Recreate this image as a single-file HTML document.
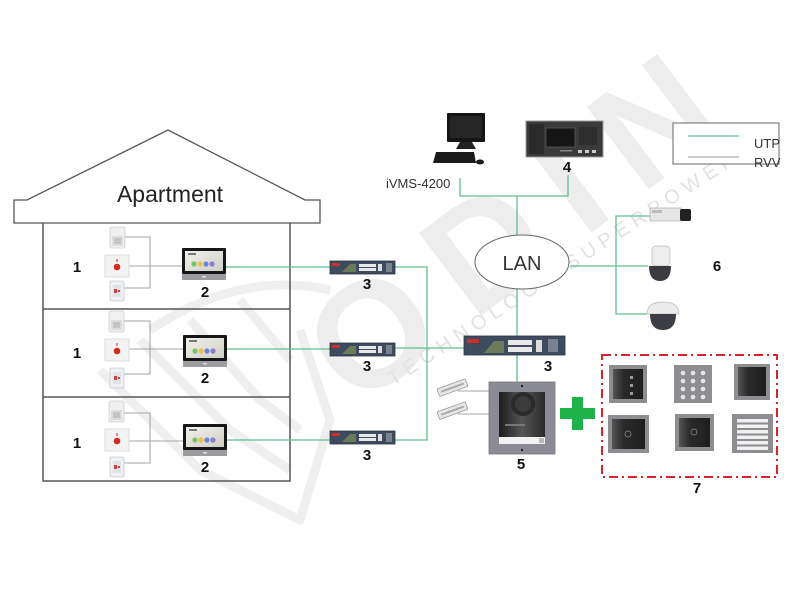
<!DOCTYPE html>
<html><head><meta charset="utf-8"><style>
html,body{margin:0;padding:0;background:#fff;}
svg{display:block;}
text{font-family:"Liberation Sans",sans-serif;}
</style></head><body>
<svg width="800" height="600" viewBox="0 0 800 600" xmlns="http://www.w3.org/2000/svg">
<defs>
<linearGradient id="scr" x1="0" y1="0" x2="1" y2="1"><stop offset="0" stop-color="#f2f0ea"/><stop offset="1" stop-color="#cfcfc8"/></linearGradient>
<linearGradient id="face" x1="0" y1="0" x2="1" y2="0"><stop offset="0" stop-color="#1c1c1c"/><stop offset="0.5" stop-color="#555"/><stop offset="1" stop-color="#2a2a2a"/></linearGradient>
<linearGradient id="mod" x1="0" y1="0" x2="1" y2="0"><stop offset="0" stop-color="#555"/><stop offset="0.35" stop-color="#2a2a2a"/><stop offset="1" stop-color="#1e1e1e"/></linearGradient>
<g id="sw">
<rect x="0" y="0" width="65" height="13" fill="#3e4b5e" stroke="#2a3340" stroke-width="0.8"/>
<rect x="2" y="2" width="8" height="3" fill="#c9302c"/>
<polygon points="12,11 20,3 26,3 26,11" fill="#6c7c5a"/>
<rect x="29" y="3" width="17" height="3" fill="#e8e8e8"/>
<rect x="29" y="7" width="17" height="3" fill="#e8e8e8"/>
<rect x="48" y="3" width="4" height="7" fill="#ddd"/>
<rect x="56" y="2" width="6" height="9" fill="#7a8290"/>
</g>
<g id="mon">
<rect x="0" y="0" width="44" height="26" fill="#161616" rx="1"/>
<rect x="3" y="3" width="38" height="20" fill="url(#scr)"/>
<rect x="6" y="5" width="8" height="2" fill="#777"/>
<circle cx="12" cy="16" r="2.6" fill="#7cc36a"/>
<circle cx="18" cy="16" r="2.6" fill="#e8c14a"/>
<circle cx="24" cy="16" r="2.6" fill="#6a86d6"/>
<circle cx="30" cy="16" r="2.6" fill="#8a7ad0"/>
<rect x="0" y="26" width="44" height="6" fill="#9c9ca0"/>
<rect x="20" y="28" width="4" height="1.5" fill="#ddd"/>
</g>
<g id="pir">
<rect x="0" y="0" width="15" height="21" fill="#f0f0f0" stroke="#cfcfcf" stroke-width="0.8" rx="2"/>
<rect x="2" y="9" width="11" height="10" fill="#dcdcdc"/>
<rect x="4" y="11" width="7" height="6" fill="#c4c4c4"/>
</g>
<g id="btn">
<rect x="0" y="0" width="24" height="22" fill="#f3f3f3" stroke="#d6d6d6" stroke-width="0.8"/>
<circle cx="12" cy="12" r="3.3" fill="#d42a20"/>
<rect x="11.5" y="4" width="1" height="3" fill="#d42a20"/>
</g>
<g id="dc">
<rect x="0" y="0" width="14" height="20" fill="#eef0f4" stroke="#c8ccd4" stroke-width="0.8" rx="1.5"/>
<rect x="3" y="4" width="8" height="12" fill="#dfe3ea"/>
<rect x="4" y="8" width="3" height="4" fill="#d64040"/>
<rect x="8" y="9" width="2" height="2" fill="#d64040"/>
</g>
<g id="lock">
<rect x="0" y="0" width="30" height="8" fill="#e6e6e6" stroke="#999" stroke-width="0.8" rx="1"/>
<rect x="3" y="3" width="24" height="2" fill="#aaa"/>
</g>
</defs>

<!-- watermark -->
<g fill="none" stroke="#efefef" stroke-width="9" stroke-linejoin="round">
<path d="M150,330 Q240,270 330,290"/>
<polyline points="100,370 200,470 300,520 330,420 300,330"/>
<polyline points="140,340 230,430 290,470"/>
<polyline points="190,320 260,400 300,430"/>
<polyline points="240,300 290,360"/>
</g>
<text x="0" y="0" transform="translate(356,410) rotate(-37)" font-size="150" font-weight="bold" fill="#ededed" letter-spacing="30">ODIN</text>
<text x="0" y="0" transform="translate(393,386) rotate(-33)" font-size="20" fill="#e2e2e2" letter-spacing="6">TECHNOLOGY SUPERPOWERS</text>

<!-- house -->
<polygon points="14,223 14,200 27,200 168,130 305,200 320,200 320,223" fill="#fff" stroke="#555" stroke-width="1.3"/>
<text x="170" y="202" font-size="23" text-anchor="middle" fill="#222">Apartment</text>
<polyline points="43,223 43,481 290,481 290,223" fill="none" stroke="#555" stroke-width="1.5"/>
<line x1="43" y1="309" x2="290" y2="309" stroke="#555" stroke-width="1.5"/>
<line x1="43" y1="397" x2="290" y2="397" stroke="#555" stroke-width="1.5"/>

<!-- gray wiring floors -->
<g stroke="#a6a6a6" stroke-width="1.1" fill="none">
<polyline points="125,237 150,237 150,288 124,288"/>
<line x1="129" y1="266" x2="182" y2="266"/>
<polyline points="124,321 150,321 150,374 123,374"/>
<line x1="129" y1="349" x2="183" y2="349"/>
<polyline points="124,413 150,413 150,463 123,463"/>
<line x1="129" y1="441" x2="183" y2="441"/>
<line x1="458" y1="391" x2="489" y2="391"/>
<line x1="458" y1="414" x2="489" y2="414"/>
</g>

<!-- floor 1 -->
<use href="#pir" x="110" y="227"/>
<use href="#btn" x="105" y="255"/>
<use href="#dc" x="110" y="281"/>
<use href="#mon" x="182" y="248"/>
<!-- floor 2 -->
<use href="#pir" x="109" y="311"/>
<use href="#btn" x="105" y="339"/>
<use href="#dc" x="110" y="368"/>
<use href="#mon" x="183" y="335"/>
<!-- floor 3 -->
<use href="#pir" x="109" y="401"/>
<use href="#btn" x="105" y="429"/>
<use href="#dc" x="110" y="457"/>
<use href="#mon" x="183" y="424"/>

<g font-size="15" font-weight="bold" fill="#111" text-anchor="middle">
<text x="77" y="272">1</text>
<text x="77" y="358">1</text>
<text x="77" y="448">1</text>
<text x="205" y="297">2</text>
<text x="205" y="383">2</text>
<text x="205" y="472">2</text>
<text x="367" y="289">3</text>
<text x="367" y="371">3</text>
<text x="367" y="460">3</text>
<text x="548" y="371">3</text>
<text x="567" y="172">4</text>
<text x="521" y="469">5</text>
<text x="717" y="271">6</text>
<text x="697" y="493">7</text>
</g>

<!-- green UTP lines -->
<g stroke="#5fbf8d" stroke-width="1.3" fill="none">
<line x1="226" y1="267" x2="330" y2="267"/>
<line x1="227" y1="349" x2="330" y2="349"/>
<line x1="227" y1="440" x2="330" y2="440"/>
<polyline points="395,267 427,267 427,440 395,440"/>
<line x1="395" y1="348" x2="464" y2="348"/>
<line x1="517" y1="289" x2="517" y2="336"/>
<line x1="517" y1="355" x2="517" y2="382"/>
<line x1="517" y1="196" x2="517" y2="235"/>
<polyline points="460,178 460,196 568,196 568,175"/>
<line x1="570" y1="266" x2="616" y2="266"/>
<polyline points="650,216 616,216 616,314 647,314"/>
<line x1="616" y1="266" x2="648" y2="266"/>
</g>

<!-- switches -->
<use href="#sw" x="330" y="261"/>
<use href="#sw" x="330" y="343"/>
<use href="#sw" x="330" y="431"/>
<g>
<rect x="464" y="336" width="101" height="19" fill="#3e4b5e" stroke="#2a3340" stroke-width="0.8"/>
<rect x="467" y="339" width="12" height="4" fill="#c9302c"/>
<polygon points="484,353 494,341 504,341 504,353" fill="#6c7c5a"/>
<rect x="508" y="340" width="24" height="5" fill="#e8e8e8"/>
<rect x="508" y="347" width="24" height="5" fill="#e8e8e8"/>
<rect x="536" y="340" width="6" height="12" fill="#ddd"/>
<rect x="548" y="339" width="10" height="13" fill="#7a8290"/>
</g>

<!-- LAN -->
<ellipse cx="522" cy="262" rx="47" ry="27" fill="#fff" stroke="#666" stroke-width="1"/>
<text x="522" y="270" font-size="20" text-anchor="middle" fill="#333">LAN</text>

<!-- computer -->
<g>
<rect x="447" y="113" width="38" height="29" fill="#151515" rx="1"/>
<rect x="450" y="116" width="32" height="22" fill="#262626"/>
<polygon points="460,142 472,142 476,149 456,149" fill="#222"/>
<polygon points="436,152 474,152 476,163 433,163" fill="#1b1b1b"/>
<ellipse cx="480" cy="162" rx="4" ry="2.5" fill="#1b1b1b"/>
</g>
<text x="386" y="188" font-size="13" fill="#333">iVMS-4200</text>

<!-- indoor station 4 -->
<g>
<rect x="526" y="121" width="77" height="36" fill="#3a3a3c" stroke="#999" stroke-width="1"/>
<rect x="529" y="124" width="15" height="30" fill="#2a2a2a"/>
<rect x="546" y="128" width="29" height="19" fill="#151515" stroke="#666" stroke-width="0.6"/>
<rect x="579" y="127" width="18" height="18" fill="#2e2e2e"/>
<rect x="578" y="150" width="4" height="3" fill="#ccc"/>
<rect x="585" y="150" width="4" height="3" fill="#ccc"/>
<rect x="592" y="150" width="4" height="3" fill="#ccc"/>
<rect x="560" y="150" width="12" height="1.5" fill="#888"/>
</g>

<!-- cameras -->
<g>
<rect x="650" y="208" width="31" height="13" fill="#e6e6e8" stroke="#aaa" stroke-width="0.7"/>
<rect x="652" y="210" width="10" height="3" fill="#bbb"/>
<rect x="680" y="209" width="11" height="12" fill="#222" rx="2"/>
<rect x="652" y="246" width="18" height="20" fill="#eeeeee" stroke="#bbb" stroke-width="0.7" rx="4"/>
<path d="M649,266 L671,266 Q671,281 660,281 Q649,281 649,266 Z" fill="#3a3a40"/>
<path d="M647,314 Q647,302 663,302 Q679,302 679,314 Z" fill="#ececec" stroke="#bbb" stroke-width="0.7"/>
<path d="M650,314 L676,314 Q676,330 663,330 Q650,330 650,314 Z" fill="#3d3d45"/>
</g>

<!-- legend -->
<rect x="673" y="123" width="106" height="41" fill="#fff" stroke="#666" stroke-width="1"/>
<line x1="688" y1="136" x2="739" y2="136" stroke="#5fbf8d" stroke-width="1.3"/>
<line x1="688" y1="157" x2="739" y2="157" stroke="#999" stroke-width="1.1"/>
<text x="754" y="148" font-size="13" fill="#333">UTP</text>
<text x="754" y="167" font-size="13" fill="#333">RVV</text>

<!-- locks -->
<use href="#lock" transform="translate(437,389) rotate(-20)"/>
<use href="#lock" transform="translate(437,412) rotate(-20)"/>

<!-- door station 5 -->
<g>
<rect x="489" y="382" width="66" height="72" fill="#8b8b95" stroke="#777" stroke-width="0.8"/>
<rect x="499" y="392" width="46" height="45" fill="url(#face)"/>
<circle cx="523" cy="404" r="12" fill="#2a2a2a"/>
<circle cx="523" cy="404" r="8" fill="#3b3b3b"/>
<rect x="505" y="424" width="20" height="2" fill="#777"/>
<rect x="499" y="437" width="46" height="7" fill="#f2f2f2"/>
<rect x="539" y="438" width="5" height="5" fill="#bbb"/>
<circle cx="522" cy="386" r="1.2" fill="#222"/>
<circle cx="522" cy="450" r="1.2" fill="#222"/>
</g>

<!-- green cross -->
<rect x="572" y="397" width="11" height="33" fill="#1fb24a"/>
<rect x="560" y="408" width="35" height="11" fill="#1fb24a"/>

<!-- modules box -->
<rect x="602" y="355" width="175" height="122" fill="none" stroke="#d9232a" stroke-width="2" stroke-dasharray="9,4,2,4"/>
<g>
<rect x="609" y="365" width="38" height="38" fill="#8e8e92"/>
<rect x="613" y="369" width="30" height="30" fill="url(#mod)"/>
<rect x="630" y="376" width="3" height="3" fill="#999"/>
<rect x="630" y="384" width="3" height="3" fill="#999"/>
<rect x="630" y="392" width="3" height="3" fill="#999"/>

<rect x="674" y="365" width="38" height="38" fill="#8e8e92"/>
<g fill="#e4e4e4">
<circle cx="683" cy="373" r="2.3"/><circle cx="693" cy="373" r="2.3"/><circle cx="703" cy="373" r="2.3"/>
<circle cx="683" cy="381" r="2.3"/><circle cx="693" cy="381" r="2.3"/><circle cx="703" cy="381" r="2.3"/>
<circle cx="683" cy="389" r="2.3"/><circle cx="693" cy="389" r="2.3"/><circle cx="703" cy="389" r="2.3"/>
<circle cx="683" cy="397" r="2.3"/><circle cx="693" cy="397" r="2.3"/><circle cx="703" cy="397" r="2.3"/>
</g>

<rect x="734" y="364" width="36" height="36" fill="#8e8e92"/>
<rect x="738" y="367" width="28" height="29" fill="url(#mod)"/>

<rect x="608" y="415" width="41" height="38" fill="#8e8e92"/>
<rect x="612" y="419" width="33" height="30" fill="url(#mod)"/>
<circle cx="628" cy="434" r="3" fill="none" stroke="#888" stroke-width="0.8"/>

<rect x="675" y="414" width="39" height="37" fill="#8e8e92"/>
<rect x="679" y="418" width="31" height="29" fill="url(#mod)"/>
<circle cx="694" cy="432" r="3" fill="none" stroke="#888" stroke-width="0.8"/>

<rect x="732" y="414" width="41" height="39" fill="#8e8e92"/>
<g fill="#f0f0f0">
<rect x="737" y="419" width="31" height="3.5"/>
<rect x="737" y="424.5" width="31" height="3.5"/>
<rect x="737" y="430" width="31" height="3.5"/>
<rect x="737" y="435.5" width="31" height="3.5"/>
<rect x="737" y="441" width="31" height="3.5"/>
<rect x="737" y="446.5" width="31" height="3.5"/>
</g>
</g>
</svg>
</body></html>
